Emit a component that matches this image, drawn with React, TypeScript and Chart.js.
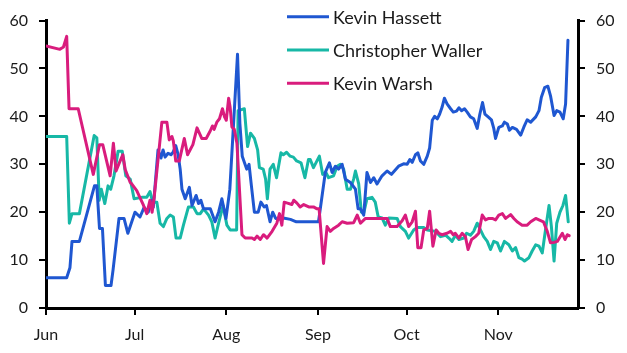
import React, { useEffect, useRef } from "react";
import { Chart, registerables } from "chart.js";

Chart.register(...registerables);

// x = days since 1 June, y = probability (%)
const hassettDays = [0, 7, 8.1, 8.8, 11.3, 16.4, 17.2, 18.1, 19.1, 20.1, 22, 22.7, 24.7, 26.4, 27.7, 30.1, 31.8, 33.2, 34.6, 35.6, 36.3, 37.9, 38.9, 39.6, 40.3, 41.3, 42.3, 43, 43.9, 44.7, 45.4, 46, 47.1, 48.5, 49.4, 50.8, 51.6, 52.4, 53.3, 55.6, 57.2, 58.4, 59.5, 60.9, 62.2, 64.8, 65.6, 66.4, 67.9, 68.7, 69.5, 70.5, 71.8, 72.7, 73.8, 74.6, 75.8, 76.7, 77.7, 79.2, 80.3, 82.7, 84.7, 92.2, 94.5, 95.9, 96.8, 97.9, 99, 100.2, 101.3, 103, 104.7, 105.6, 106.4, 107.5, 108.6, 109.8, 110.9, 112, 113.7, 115.4, 116.9, 119.3, 121, 122.2, 123.1, 123.9, 125, 125.8, 126.7, 127.8, 129, 129.8, 130.7, 131.5, 132.4, 133.2, 134, 134.8, 135.7, 136.9, 137.8, 138.9, 139.7, 140.6, 141.6, 142.5, 143.6, 144.7, 145.9, 146.8, 147.7, 148.5, 149.6, 150.7, 151.5, 152.1, 153.2, 154.4, 155.1, 156.1, 156.8, 157.8, 159.2, 160.6, 161.7, 162.8, 164, 165.7, 166.8, 167.6, 168.7, 169.8, 170.7, 171.9, 172.8, 173.9, 175, 175.8, 176.6];
const hassettVals = [6.3, 6.3, 8.4, 13.9, 13.9, 25.5, 25.5, 16.6, 16.6, 4.7, 4.7, 8, 18.7, 18.7, 15.6, 20, 19, 21, 20, 22.5, 21, 33, 31.3, 33, 31.5, 32.3, 32, 32.5, 33.9, 32, 29, 24.8, 22.8, 25.2, 21.4, 23.5, 21.8, 22.5, 20.7, 20.7, 18, 20, 22.8, 18.7, 24.8, 53, 38.5, 31.7, 29, 30, 25.5, 20, 20, 22.1, 21.1, 21.4, 18, 20, 18.7, 18.6, 18.8, 18.5, 18, 18, 28.3, 30.3, 28.3, 29.6, 29, 30, 26.9, 26.2, 24.8, 20.7, 20.7, 19.4, 28.3, 26.2, 27.2, 25.9, 27.6, 28.6, 27.9, 29.6, 30.1, 30, 31, 30.4, 32, 32.4, 30.7, 30, 31.7, 33.4, 39.2, 40, 39.5, 40.5, 41.9, 43.8, 42.6, 41.6, 40.9, 41.1, 41.8, 41.2, 41.6, 40.9, 39.9, 39.5, 37.5, 40.5, 42.9, 40.5, 39.9, 39.3, 37.5, 35.4, 37.7, 38, 38.8, 38.4, 37.1, 37.7, 37.3, 36.1, 37.8, 39.3, 38.8, 39.9, 41.2, 44, 46, 46.3, 44.3, 40.2, 41.2, 40.9, 39.5, 42.6, 55.9];

const wallerDays = [0, 7, 7.9, 8.8, 11.3, 16.3, 17.2, 18, 18.7, 19.9, 21, 21.9, 23, 24.4, 25.8, 27, 28.5, 29.8, 32.4, 34.1, 35.2, 36.1, 37.5, 38.6, 39.7, 40.9, 42, 43.1, 44, 45.4, 46.5, 48.2, 49.9, 51.1, 52.2, 53.3, 55, 56.1, 57.2, 58.4, 59.9, 61.2, 62.3, 64.5, 65, 67.1, 68.2, 69.2, 70.5, 71.6, 72.2, 73.5, 74.3, 74.9, 75.8, 76.9, 78, 79.5, 80.3, 81.4, 82.6, 83.7, 84.8, 86.3, 87.6, 88.8, 89.4, 90.5, 92.5, 93.6, 94.7, 95.6, 97.3, 98.5, 99.6, 100.7, 101.9, 103, 104.1, 104.7, 105.8, 106.7, 107.5, 108.6, 110.3, 111.4, 112.4, 113.7, 114.8, 116, 118.8, 119.9, 121.6, 122.7, 124.4, 125.6, 127.8, 129, 131.8, 133.5, 135.2, 136.3, 137.4, 138.5, 139.7, 141.4, 142.3, 143.6, 144.7, 145.9, 147, 148.1, 149.3, 150.4, 151.5, 152.7, 153.8, 155.1, 156.6, 157.8, 158.9, 160, 161.1, 161.9, 163.4, 164.5, 165.7, 166.8, 167.9, 169, 170.2, 171, 171.9, 172.8, 173.9, 174.9, 175.8, 176.7];
const wallerVals = [35.8, 35.8, 17.7, 19.7, 19.7, 36, 35.5, 22.5, 24.8, 21.8, 25.5, 24.8, 27.6, 32.7, 32.7, 27.6, 26.9, 22.8, 23.1, 23.1, 24.3, 22.1, 22.1, 17.7, 17, 18.7, 19.4, 19, 14.6, 14.6, 17.3, 21.1, 21.1, 19.7, 19.7, 20.7, 19.4, 18, 14.6, 17.7, 21.4, 17.3, 16.3, 16.3, 41.2, 41.6, 33.7, 36.5, 35.4, 33, 29.3, 29, 26.9, 22.8, 29, 30, 27.2, 32.4, 32, 32.5, 31.7, 31.5, 30.7, 30.3, 27.2, 31, 31, 29.3, 31.7, 27.9, 28.3, 27.2, 27.6, 29.6, 30, 29, 24.8, 24.8, 26.9, 28.6, 25.9, 20, 19.8, 22.8, 23.1, 22.1, 19, 18.8, 17.3, 18.8, 18.7, 17, 16, 14.6, 16.3, 16.8, 16.8, 16.3, 16, 14.9, 15.2, 14.6, 13.9, 15.2, 14.3, 14.6, 15.6, 15.2, 16, 17.7, 16.3, 14.9, 13.9, 12.2, 13.9, 13.6, 11.9, 13.9, 13.2, 11.9, 12.6, 10.5, 10.2, 9.8, 10.5, 11.9, 13.2, 12.9, 11.5, 16.3, 21.4, 17, 9.8, 17.7, 20, 21.4, 23.5, 18];

const warshDays = [0, 4.7, 5.9, 7, 7.8, 10.9, 16, 18.1, 19.2, 21.7, 22.8, 23.7, 24.8, 26, 26.8, 28.5, 29, 30.7, 33, 34.1, 35.2, 35.9, 36.6, 39.2, 40.9, 41.7, 42.6, 43.1, 43.9, 45.1, 46.8, 47.9, 49.7, 51.1, 52.7, 54.2, 55.6, 56.3, 56.9, 57.8, 58.7, 59.7, 60.4, 61, 61.8, 62.3, 62.9, 63.7, 64.6, 66.3, 67.4, 69.7, 70.5, 71.4, 72.5, 73.6, 74.8, 76.5, 78.1, 79, 79.8, 80.6, 81.7, 83.2, 83.8, 84.9, 86, 87.2, 88.9, 90.5, 91.7, 92.4, 93.9, 95.1, 96.2, 97.3, 99, 100.2, 101.9, 104.1, 105.3, 106.4, 108.1, 115.4, 116.5, 118.8, 120.5, 121.6, 122.7, 123.9, 125, 125.8, 126.9, 127.8, 129, 129.8, 130.9, 132, 132.9, 134, 135.7, 136.9, 137.8, 138.5, 139.7, 140.8, 141.9, 142.8, 144, 145.3, 146.4, 147.6, 148.7, 149.8, 151, 152.1, 153.2, 154.4, 155.5, 157.2, 158.3, 159.4, 161.1, 162.8, 164, 165.7, 166.8, 168.3, 169.6, 170.7, 171.9, 173, 174.7, 175.6, 176.4, 177];
const warshVals = [54.7, 54, 54.5, 56.7, 41.6, 41.6, 27.9, 34.1, 34.1, 27.6, 34.4, 28.6, 30.3, 32, 28.9, 26.2, 25.9, 24.5, 21.4, 19.7, 22.5, 20, 23.1, 38.8, 38.8, 35.1, 35.8, 34.8, 30.7, 30.7, 35.4, 32, 34.1, 37.6, 35.4, 35.4, 37, 38, 37.3, 38.8, 39.5, 41.6, 39.9, 39.2, 43.8, 41.9, 37.8, 37.3, 34.4, 15.3, 14.6, 14.6, 14.3, 15, 14.3, 15.3, 14.6, 16, 17.7, 19.7, 17.3, 22.1, 21.9, 21.6, 22.5, 21.9, 21.1, 21.6, 21.1, 21.1, 20.7, 20.7, 9.3, 17, 16, 16.6, 17.3, 18, 17.7, 17.8, 19.4, 17.7, 18.7, 18.7, 17, 17, 18.2, 19.4, 17, 18, 20.2, 12.6, 12.6, 16.3, 16.6, 20.2, 12.9, 16.3, 15.6, 15.3, 15.6, 16, 15.3, 15.6, 14.6, 15.6, 14.9, 12.2, 14.3, 14.9, 15.6, 19.4, 18.4, 18.7, 18.7, 18.4, 19.4, 19.7, 18.7, 19.5, 18.7, 18, 17.3, 17.3, 18, 18.7, 18.4, 18, 16, 13.6, 13.7, 13.9, 15.6, 14.3, 15.3, 15.1];

const seriesNames = ["Kevin Hassett", "Christopher Waller", "Kevin Warsh"];
const monthDays = [0, 30, 61, 92, 122, 153];
const monthLabels = ["Jun", "Jul", "Aug", "Sep", "Oct", "Nov"];
const yTicks = [0, 10, 20, 30, 40, 50, 60];

const COLORS = ["#1f57d1", "#17b8a6", "#d91c7d"];
const FONT = "Lato";

function pts(xs: number[], ys: number[]) {
  return xs.map((x, i) => ({ x, y: ys[i] }));
}

const legendPlugin = {
  id: "customLegend",
  afterDraw(chart: any) {
    const ctx = chart.ctx;
    ctx.save();
    const ds = chart.data.datasets;
    ds.forEach((d: any, i: number) => {
      const y = 16.7 + i * 33.3;
      ctx.strokeStyle = d.borderColor;
      ctx.lineWidth = 3;
      ctx.beginPath();
      ctx.moveTo(287, y);
      ctx.lineTo(329, y);
      ctx.stroke();
      ctx.fillStyle = "#1a1a1a";
      ctx.font = `18px ${FONT}`;
      ctx.textBaseline = "middle";
      ctx.textAlign = "left";
      ctx.fillText(d.label, 333, y + 1);
    });
    ctx.restore();
  },
};

export default function App() {
  const ref = useRef<HTMLCanvasElement>(null);
  useEffect(() => {
    if (!ref.current) return;
    const tickFont = { family: FONT, size: 16 };
    const yAxis = (pos: "left" | "right", w: number) => ({
      type: "linear" as const,
      position: pos,
      min: 0,
      max: 60,
      afterBuildTicks: (s: any) => {
        s.ticks = yTicks.map((v) => ({ value: v }));
      },
      afterFit: (s: any) => {
        s.width = w;
      },
      ticks: { font: tickFont, color: "#1a1a1a", padding: 11 },
      grid: {
        display: true,
        drawOnChartArea: false,
        drawTicks: true,
        tickLength: 7,
        color: "#000",
        lineWidth: 2,
      },
      border: { display: true, color: "#000", width: 3 },
    });
    const chart = new Chart(ref.current, {
      type: "line",
      data: {
        datasets: [
          { label: seriesNames[0], data: pts(hassettDays, hassettVals), borderColor: COLORS[0], backgroundColor: COLORS[0], order: 1, yAxisID: "y" },
          { label: seriesNames[1], data: pts(wallerDays, wallerVals), borderColor: COLORS[1], backgroundColor: COLORS[1], order: 2, yAxisID: "y" },
          { label: seriesNames[2], data: pts(warshDays, warshVals), borderColor: COLORS[2], backgroundColor: COLORS[2], order: 0, yAxisID: "y" },
        ],
      },
      options: {
        animation: false,
        responsive: false,
        maintainAspectRatio: false,
        layout: { padding: { top: 15, left: 0, right: 0, bottom: 0 } },
        elements: {
          point: { radius: 0 },
          line: { borderWidth: 3, tension: 0, borderJoinStyle: "round", borderCapStyle: "round" },
        },
        plugins: { legend: { display: false }, tooltip: { enabled: false } },
        scales: {
          x: {
            type: "linear",
            min: 0,
            max: 180,
            afterBuildTicks: (s: any) => {
              s.ticks = monthDays.map((v) => ({ value: v }));
            },
            afterFit: (s: any) => {
              s.height = 45;
            },
            ticks: {
              font: tickFont,
              color: "#1a1a1a",
              padding: 10,
              maxRotation: 0,
              autoSkip: false,
              callback: (v: any) => monthLabels[monthDays.indexOf(Number(v))] ?? "",
            },
            grid: {
              display: true,
              drawOnChartArea: false,
              drawTicks: true,
              tickLength: 7,
              color: "#000",
              lineWidth: 2,
            },
            border: { display: true, color: "#000", width: 3 },
          },
          y: yAxis("left", 46),
          y2: yAxis("right", 49),
        },
      },
      plugins: [legendPlugin],
    });
    return () => chart.destroy();
  }, []);
  return (
    <div style={{ position: "fixed", left: 0, top: 0, width: 627, height: 353, background: "#fff" }}>
      <canvas ref={ref} width={627} height={353} style={{ display: "block" }} />
    </div>
  );
}
